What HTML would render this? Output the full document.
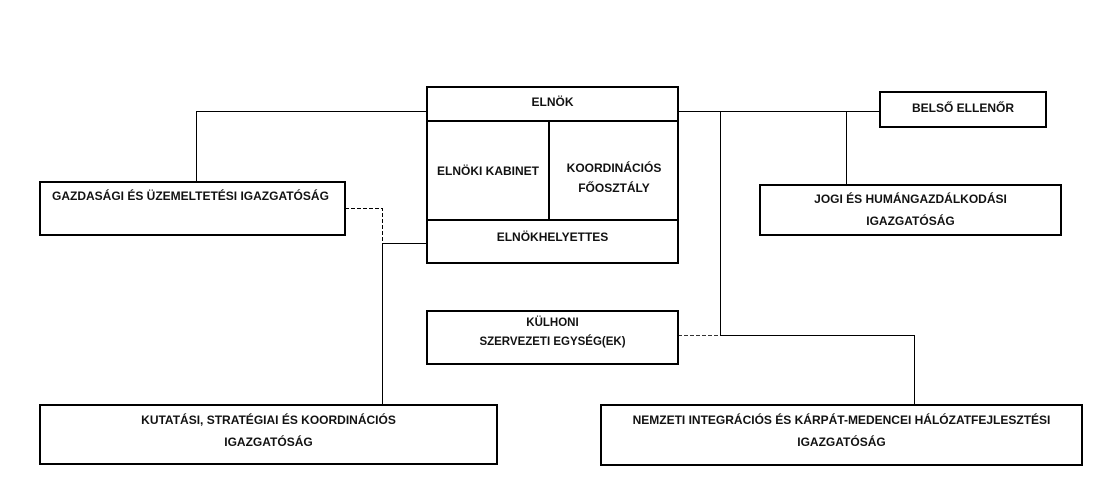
<!DOCTYPE html>
<html><head><meta charset="utf-8"><style>
body{margin:0;width:1103px;height:500px;background:#fff;position:relative;overflow:hidden;font-family:"Liberation Sans",sans-serif;}
.b{position:absolute;box-sizing:border-box;border:2px solid #000;background:#fff;}
.t{position:absolute;font-weight:bold;font-size:12px;color:#111;text-align:center;line-height:22px;white-space:nowrap;}
svg{position:absolute;left:0;top:0;}
</style></head><body>
<svg width="1103" height="500">
<g stroke="#000" stroke-width="1" fill="none">
<polyline points="426,111.5 196.5,111.5 196.5,182"/>
<polyline points="678,111.5 880,111.5"/>
<line x1="846.5" y1="111" x2="846.5" y2="185"/>
<line x1="720.5" y1="111" x2="720.5" y2="335"/>
<polyline points="720,335.5 914.5,335.5 914.5,405"/>
<polyline points="426,243.5 382.5,243.5 382.5,405"/>
<polyline points="345,208.5 382.5,208.5 382.5,243" stroke-dasharray="4,2"/>
<line x1="678" y1="335.5" x2="720" y2="335.5" stroke-dasharray="4,2" stroke="#333"/>
</g>
</svg>
<div class="b" style="left:426px;top:86px;width:253px;height:178px;"></div>
<div style="position:absolute;left:427px;top:120px;width:251px;height:2px;background:#000"></div>
<div style="position:absolute;left:427px;top:219px;width:251px;height:2px;background:#000"></div>
<div style="position:absolute;left:548px;top:121px;width:2px;height:99px;background:#000"></div>
<div class="t" style="left:426px;top:91px;width:253px;">ELNÖK</div>
<div class="t" style="left:428px;top:160px;width:120px;">ELNÖKI KABINET</div>
<div class="t" style="left:550px;top:158px;width:128px;line-height:20px;">KOORDINÁCIÓS<br>FŐOSZTÁLY</div>
<div class="t" style="left:426px;top:226px;width:253px;">ELNÖKHELYETTES</div>

<div class="b" style="left:39px;top:181px;width:307px;height:55px;"></div>
<div class="t" style="left:52px;top:185px;">GAZDASÁGI ÉS ÜZEMELTETÉSI IGAZGATÓSÁG</div>

<div class="b" style="left:879px;top:91px;width:168px;height:37px;"></div>
<div class="t" style="left:879px;top:97px;width:168px;">BELSŐ ELLENŐR</div>

<div class="b" style="left:759px;top:184px;width:303px;height:52px;"></div>
<div class="t" style="left:759px;top:188px;width:303px;">JOGI ÉS HUMÁNGAZDÁLKODÁSI<br>IGAZGATÓSÁG</div>

<div class="b" style="left:426px;top:310px;width:253px;height:55px;"></div>
<div class="t" style="left:426px;top:314px;width:253px;line-height:19px;font-size:11.5px;">KÜLHONI<br>SZERVEZETI EGYSÉG(EK)</div>

<div class="b" style="left:39px;top:404px;width:459px;height:61px;"></div>
<div class="t" style="left:39px;top:409px;width:459px;">KUTATÁSI, STRATÉGIAI ÉS KOORDINÁCIÓS<br>IGAZGATÓSÁG</div>

<div class="b" style="left:600px;top:404px;width:483px;height:62px;"></div>
<div class="t" style="left:600px;top:409px;width:483px;">NEMZETI INTEGRÁCIÓS ÉS KÁRPÁT-MEDENCEI HÁLÓZATFEJLESZTÉSI<br>IGAZGATÓSÁG</div>
</body></html>
